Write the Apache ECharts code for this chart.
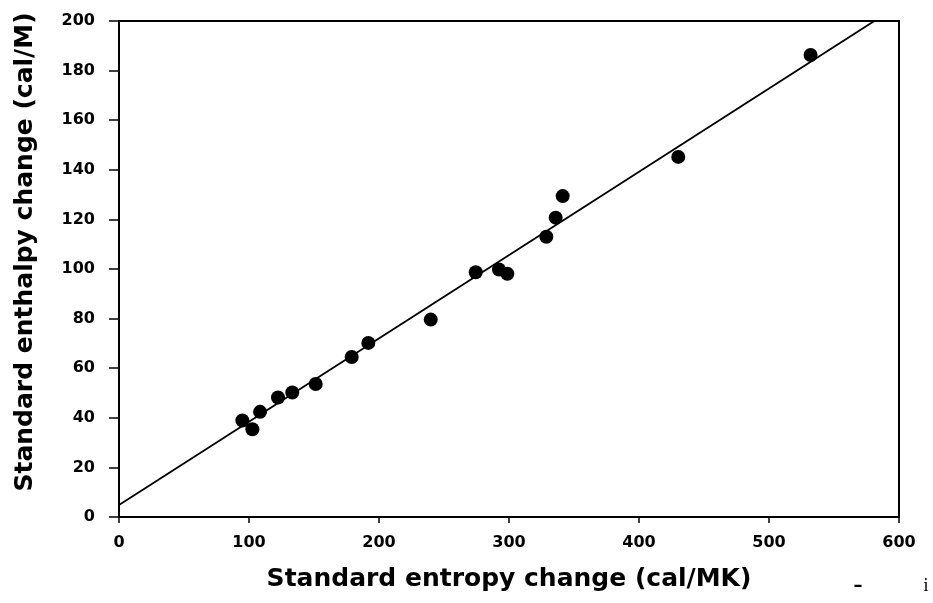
<!DOCTYPE html>
<html>
<head>
<meta charset="utf-8">
<script src="https://cdn.jsdelivr.net/npm/echarts@6/dist/echarts.min.js"></script>
<style>
  html, body { margin: 0; padding: 0; background: #fff; }
  #chart { width: 933px; height: 603px; }
</style>
</head>
<body>
<div id="chart"></div>
<script>
// entropy (cal/MK) vs enthalpy (cal/M)
const entropy = [94.9, 102.6, 108.5, 122.3, 133.3, 151.3, 179, 191.8, 239.8, 274.4, 292.3, 298.7, 328.7, 335.9, 341.3, 430.2, 532]
const enthalpy = [38.9, 35.4, 42.4, 48.2, 50.2, 53.6, 64.5, 70.2, 79.6, 98.7, 99.8, 98.1, 113, 120.7, 129.4, 145.2, 186.3]
// fitted line end points
const fitX = [0, 584]
const fitY = [4.8, 201]

const xTicks = [0, 100, 200, 300, 400, 500, 600]
const yTicks = [0, 20, 40, 60, 80, 100, 120, 140, 160, 180, 200]

const points = entropy.map((x, i) => [x, enthalpy[i]])
const fitLine = fitX.map((x, i) => [x, fitY[i]])

const font = "'DejaVu Sans', 'Liberation Sans', sans-serif"

const chart = echarts.init(document.getElementById("chart"))
chart.setOption({
	backgroundColor: "#fff",
	animation: false,
	grid: {
		left: 119,
		right: 34,
		top: 21,
		bottom: 86,
		outerBoundsMode: "none",
		containLabel: false,
		show: true,
		borderColor: "#000",
		borderWidth: 2,
	},
	xAxis: {
		type: "value",
		min: xTicks[0],
		max: xTicks[xTicks.length - 1],
		interval: 100,
		name: "Standard entropy change (cal/MK)",
		nameLocation: "middle",
		nameGap: 50,
		nameTextStyle: { color: "#000", fontFamily: font, fontWeight: "bold", fontSize: 25 },
		axisLine: { lineStyle: { color: "#000", width: 2 } },
		axisTick: { show: true, length: 6, lineStyle: { color: "#000", width: 1.5 } },
		axisLabel: { color: "#000", fontFamily: font, fontWeight: "bold", fontSize: 16, margin: 18 },
		splitLine: { show: false },
	},
	yAxis: {
		type: "value",
		min: yTicks[0],
		max: yTicks[yTicks.length - 1],
		interval: 20,
		name: "Standard enthalpy change (cal/M)",
		nameLocation: "middle",
		nameGap: 81,
		nameTextStyle: { color: "#000", fontFamily: font, fontWeight: "bold", fontSize: 25, padding: [0, 0, 0, 34] },
		axisLine: { lineStyle: { color: "#000", width: 2 } },
		axisTick: { show: true, length: 10, lineStyle: { color: "#000", width: 1.5 } },
		axisLabel: { color: "#000", fontFamily: font, fontWeight: "bold", fontSize: 16, margin: 24 },
		splitLine: { show: false },
	},
	series: [
		{
			type: "line",
			data: fitLine,
			symbol: "none",
			lineStyle: { color: "#000", width: 1.8 },
			z: 2,
		},
		{
			type: "scatter",
			data: points,
			symbol: "circle",
			symbolSize: 14,
			itemStyle: { color: "#000", opacity: 1 },
			z: 3,
		},
	],
	graphic: [
		{ type: "text", x: 858, y: 586, style: { text: "\u2013", fill: "#000", font: "bold 18px " + font, align: "center", verticalAlign: "middle" } },
		{ type: "text", x: 926, y: 586, style: { text: "i", fill: "#000", font: "18px 'Liberation Serif', serif", align: "center", verticalAlign: "middle" } },
	],
})
</script>
</body>
</html>
